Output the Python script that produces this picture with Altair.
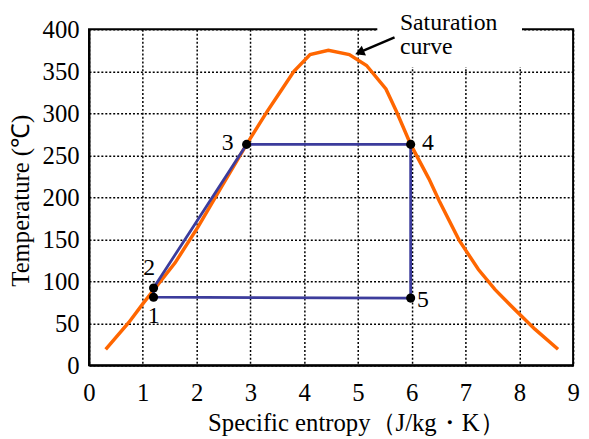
import altair as alt
import pandas as pd

# Saturation curve
sat_s = [0.31, 0.74, 1.01, 1.60, 2.03, 2.46, 2.93, 3.31, 3.56, 3.81, 4.11, 4.45, 4.84, 5.16,
         5.52, 5.71, 5.98, 6.32, 6.51, 6.88, 7.24, 7.55, 7.92, 8.29, 8.72]
sat_t = [19, 51, 74, 122, 165, 212, 263, 302, 326, 350, 370, 375, 370, 357,
         329, 303, 263, 222, 196, 149, 114, 90, 66, 43, 19]

# Cycle points
pt_name = ["1", "2", "3", "4", "5"]
pt_s = [1.20, 1.20, 2.93, 5.98, 5.98]
pt_t = [81, 92, 263, 263, 80]
# label positions
lab_s = [1.20, 1.12, 2.58, 6.30, 6.21]
lab_t = [58, 116, 265, 265, 78]

# cycle path order
path_order = [1, 2, 3, 4, 5, 6]
path_idx = [0, 1, 2, 3, 4, 0]

x_ticks = list(range(0, 10))
y_ticks = list(range(0, 401, 50))

SERIF = "serif"

sat_df = pd.DataFrame({"s": sat_s, "t": sat_t, "o": list(range(len(sat_s)))})
path_df = pd.DataFrame({"s": [pt_s[i] for i in path_idx], "t": [pt_t[i] for i in path_idx],
                        "o": path_order})
pt_df = pd.DataFrame({"s": pt_s, "t": pt_t})
lab_df = pd.DataFrame({"s": lab_s, "t": lab_t, "name": pt_name})

xs = alt.Scale(domain=[0, 9], nice=False, zero=False)
ys = alt.Scale(domain=[0, 400], nice=False)

xaxis = alt.Axis(values=x_ticks, format="d", title="Specific entropy（J/kg・K）", labelPadding=16,
                 titleAlign="left", titleX=120, titleY=66, titleBaseline="alphabetic",
                 titleAnchor=None)
yaxis = alt.Axis(values=y_ticks, format="d", title="Temperature (℃)", labelPadding=10,
                 titleAngle=270, titleAlign="left", titleBaseline="middle",
                 titleX=-69, titleY=260)

base_x = alt.X("s:Q", scale=xs, axis=xaxis)
base_y = alt.Y("t:Q", scale=ys, axis=yaxis)

sat = alt.Chart(sat_df).mark_line(color="#FF6600", strokeWidth=3.5).encode(
    x=base_x, y=base_y, order="o:Q")

cycle = alt.Chart(path_df).mark_line(color="#3C3C9C", strokeWidth=2.8).encode(
    x=alt.X("s:Q", scale=xs), y=alt.Y("t:Q", scale=ys), order="o:Q")

pts = alt.Chart(pt_df).mark_circle(color="black", opacity=1, size=85).encode(
    x=alt.X("s:Q", scale=xs), y=alt.Y("t:Q", scale=ys))

labs = alt.Chart(lab_df).mark_text(font=SERIF, fontSize=24, color="black",
                                   align="center", baseline="middle").encode(
    x=alt.X("s:Q", scale=xs), y=alt.Y("t:Q", scale=ys), text="name:N")

# annotation
box_df = pd.DataFrame({"s": [5.36], "s2": [8.05], "t": [355], "t2": [418]})
box = alt.Chart(box_df).mark_rect(color="white").encode(
    x=alt.X("s:Q", scale=xs), x2="s2:Q", y=alt.Y("t:Q", scale=ys), y2="t2:Q")

ann_df = pd.DataFrame({"s": [5.78, 5.78], "t": [399, 370.7], "txt": ["Saturation", "curve"]})
ann = alt.Chart(ann_df).mark_text(font=SERIF, fontSize=24, color="black",
                                  align="left", baseline="alphabetic").encode(
    x=alt.X("s:Q", scale=xs), y=alt.Y("t:Q", scale=ys), text="txt:N")

arrow_df = pd.DataFrame({"s": [5.68], "t": [390.5], "s2": [5.08], "t2": [374]})
arrow = alt.Chart(arrow_df).mark_rule(color="black", strokeWidth=2.5).encode(
    x=alt.X("s:Q", scale=xs), y=alt.Y("t:Q", scale=ys), x2="s2:Q", y2="t2:Q")
head_df = pd.DataFrame({"s": [5.03], "t": [372.5]})
head = alt.Chart(head_df).mark_point(shape="triangle-up", filled=True, color="black",
                                     opacity=1, size=120, angle=247).encode(
    x=alt.X("s:Q", scale=xs), y=alt.Y("t:Q", scale=ys))

chart = alt.layer(sat, box, cycle, pts, labs, ann, arrow, head).properties(
    width=490, height=340,
    autosize=alt.AutoSizeParams(type="none"),
    padding={"left": 82, "top": 19, "right": 8, "bottom": 70},
).configure_view(stroke="black", strokeWidth=2).configure_axis(
    domainColor="black", domainWidth=2, grid=True, gridColor="black", gridDash=[2, 2],
    gridWidth=1.5, gridOpacity=1, ticks=False, labelFont=SERIF, labelFontSize=25,
    labelColor="black", titleFont=SERIF, titleFontSize=25, titleColor="black",
    titleFontWeight="normal", labelFlush=False, labelOverlap=False
)

chart.save("out.html", embed_options={"renderer": "svg", "actions": False})
